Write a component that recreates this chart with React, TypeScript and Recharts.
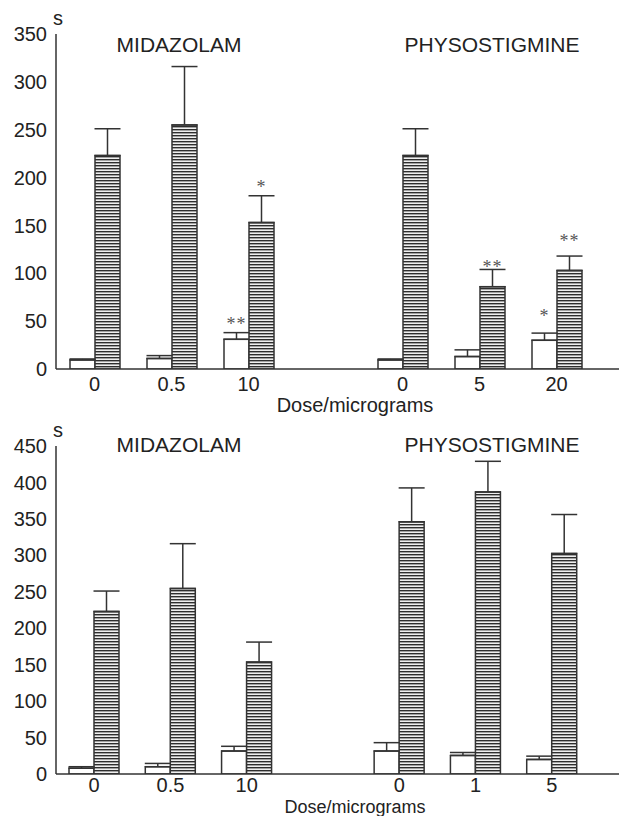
import React from "react";
import { BarChart, Bar, XAxis, YAxis, ErrorBar, LabelList } from "recharts";

const topCategories = ["0", "0.5", "10", "", "0", "5", "20"];
const topControl = [9.5, 11, 31, null, 9.5, 13, 30];
const topControlErr = [1, 3, 7, null, 1, 7, 7.5];
const topTreated = [223, 255, 153, null, 223, 86, 103];
const topTreatedErr = [28, 61, 28, null, 28, 18, 15];
const topControlStars = ["", "", "**", "", "", "", "*"];
const topTreatedStars = ["", "", "*", "", "", "**", "**"];
const topTicks = [0, 50, 100, 150, 200, 250, 300, 350];

const bottomCategories = ["0", "0.5", "10", "", "0", "1", "5"];
const bottomControl = [8, 10, 31.5, null, 31.5, 25.5, 20];
const bottomControlErr = [2, 4.5, 6.5, null, 11.5, 4, 4.5];
const bottomTreated = [223, 254.5, 153.5, null, 346, 387, 302.5];
const bottomTreatedErr = [28, 61.5, 27.5, null, 46.5, 42, 53.5];
const bottomControlStars = ["", "", "", "", "", "", ""];
const bottomTreatedStars = ["", "", "", "", "", "", ""];
const bottomTicks = [0, 50, 100, 150, 200, 250, 300, 350, 400, 450];

const groupTitles = ["MIDAZOLAM", "PHYSOSTIGMINE"];
const xTitle = "Dose/micrograms";
const yUnit = "s";

const FONT = "'Liberation Sans', Arial, Helvetica, sans-serif";
const INK = "#222";
const LINE = "#333";

function buildData(cats, ctrl, ctrlErr, trt, trtErr, cStars, tStars) {
  return cats.map((label, i) => ({
    key: "c" + i,
    label,
    control: ctrl[i],
    controlErr: ctrlErr[i] == null ? null : [0, ctrlErr[i]],
    treated: trt[i],
    treatedErr: trtErr[i] == null ? null : [0, trtErr[i]],
    controlStar: cStars[i],
    treatedStar: tStars[i],
  }));
}

const topData = buildData(topCategories, topControl, topControlErr, topTreated, topTreatedErr, topControlStars, topTreatedStars);
const bottomData = buildData(bottomCategories, bottomControl, bottomControlErr, bottomTreated, bottomTreatedErr, bottomControlStars, bottomTreatedStars);

function makeStar(values, errs) {
  return (p) => {
    const { x, y, width, height, value, index } = p;
    if (!value) return null;
    const v = values[index];
    const e = errs[index];
    if (!v || e == null) return null;
    const pxPerUnit = Math.abs(height) / v;
    const top = y - e * pxPerUnit;
    return (
      <text
        x={x + width / 2}
        y={top - 3}
        textAnchor="middle"
        fontSize={18}
        fill="#555"
        fontFamily="'Liberation Serif', 'Times New Roman', serif"
        letterSpacing={1}
      >
        {value}
      </text>
    );
  };
}

function Panel({ data, ticks, max, id, height, marginTop, xAxisHeight, padRight, ctrlVals, ctrlErrs, trtVals, trtErrs, tickMargin }) {
  return (
    <BarChart
      width={619}
      height={height}
      data={data}
      margin={{ top: marginTop, right: 0, left: 0, bottom: 0 }}
      barGap={0}
      barSize={25}
    >
      <defs>
        <pattern id={id} patternUnits="userSpaceOnUse" width="8" height="3">
          <rect width="8" height="3" fill="#efefef" />
          <rect width="8" height="1.4" fill="#2e2e2e" />
        </pattern>
      </defs>
      <XAxis
        dataKey="key"
        tickFormatter={(k) => {
          const d = data.find((r) => r.key === k);
          return d ? d.label : "";
        }}
        interval={0}
        height={xAxisHeight}
        tickLine={false}
        tickMargin={tickMargin}
        axisLine={{ stroke: LINE, strokeWidth: 1.5 }}
        tick={{ fontSize: 20, fill: INK, fontFamily: FONT }}
        padding={{ left: 0, right: padRight }}
      />
      <YAxis
        width={56}
        domain={[0, max]}
        ticks={ticks}
        interval={0}
        tickLine={false}
        tickMargin={3}
        axisLine={{ stroke: LINE, strokeWidth: 1.5 }}
        tick={{ fontSize: 20, fill: INK, fontFamily: FONT }}
        allowDataOverflow
      />
      <Bar dataKey="control" fill="#ffffff" stroke={LINE} strokeWidth={1.5} isAnimationActive={false}>
        <ErrorBar dataKey="controlErr" width={13} stroke={LINE} strokeWidth={1.5} direction="y" />
        <LabelList dataKey="controlStar" content={makeStar(ctrlVals, ctrlErrs)} />
      </Bar>
      <Bar dataKey="treated" fill={`url(#${id})`} stroke={LINE} strokeWidth={1.5} isAnimationActive={false}>
        <ErrorBar dataKey="treatedErr" width={13} stroke={LINE} strokeWidth={1.5} direction="y" />
        <LabelList dataKey="treatedStar" content={makeStar(trtVals, trtErrs)} />
      </Bar>
    </BarChart>
  );
}

function Txt({ x, y, size, children }) {
  return (
    <div
      style={{
        position: "absolute",
        left: x,
        top: y,
        transform: "translate(-50%, -50%)",
        fontFamily: FONT,
        fontSize: size,
        lineHeight: 1,
        color: INK,
        whiteSpace: "nowrap",
      }}
    >
      {children}
    </div>
  );
}

export default function App() {
  return (
    <div style={{ position: "absolute", left: 0, top: 0, width: 619, height: 816, background: "#fff", overflow: "hidden" }}>
      <div style={{ position: "absolute", left: 0, top: 0 }}>
        <Panel
          data={topData}
          ticks={topTicks}
          max={350}
          id="stripeTop"
          height={410}
          marginTop={34}
          xAxisHeight={41}
          padRight={24}
          tickMargin={2}
          ctrlVals={topControl}
          ctrlErrs={topControlErr}
          trtVals={topTreated}
          trtErrs={topTreatedErr}
        />
      </div>
      <div style={{ position: "absolute", left: 0, top: 410 }}>
        <Panel
          data={bottomData}
          ticks={bottomTicks}
          max={450}
          id="stripeBottom"
          height={406}
          marginTop={36}
          xAxisHeight={42}
          padRight={29}
          tickMargin={-2}
          ctrlVals={bottomControl}
          ctrlErrs={bottomControlErr}
          trtVals={bottomTreated}
          trtErrs={bottomTreatedErr}
        />
      </div>
      <Txt x={58} y={18} size={20}>{yUnit}</Txt>
      <Txt x={179} y={44} size={21}>{groupTitles[0]}</Txt>
      <Txt x={492} y={44} size={21}>{groupTitles[1]}</Txt>
      <Txt x={355} y={405} size={20}>{xTitle}</Txt>
      <Txt x={58} y={430} size={20}>{yUnit}</Txt>
      <Txt x={179} y={444} size={21}>{groupTitles[0]}</Txt>
      <Txt x={492} y={444} size={21}>{groupTitles[1]}</Txt>
      <Txt x={355} y={807} size={18}>{xTitle}</Txt>
    </div>
  );
}
